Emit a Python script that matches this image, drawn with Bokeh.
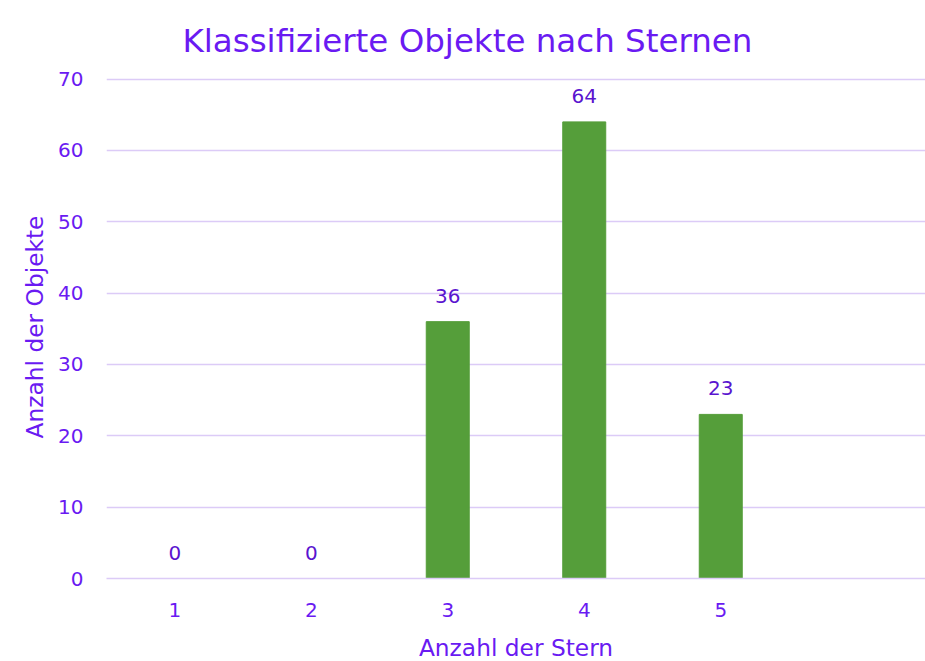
from bokeh.plotting import figure
from bokeh.models import ColumnDataSource, Title, FixedTicker, Range1d
from bokeh.core.properties import value
from bokeh.embed import file_html
from bokeh.resources import INLINE

categories = ["1", "2", "3", "4", "5", " "]
counts = [0, 0, 36, 64, 23, None]
y_ticks = [0, 10, 20, 30, 40, 50, 60, 70]

title_text = "Klassifizierte Objekte nach Sternen"
x_label = "Anzahl der Stern"
y_label = "Anzahl der Objekte"

PURPLE = "#6a1af2"
LABEL_PURPLE = "#5a14cf"
GREEN = "#559e3a"
GRID = "#dccbf7"
FONT = "DejaVu Sans"

bar_cats = categories[:5]
bar_vals = counts[:5]
src = ColumnDataSource(dict(x=bar_cats, top=bar_vals, lbl=[str(v) for v in bar_vals]))

p = figure(x_range=categories, y_range=Range1d(0, 70.5), frame_width=819, frame_height=503,
           output_backend="svg", toolbar_location=None,
           min_border_left=106, min_border_right=0, min_border_top=75, min_border_bottom=0)

p.vbar(x="x", top="top", width=0.315, source=src, color=GREEN)
p.text(x="x", y="top", text="lbl", source=src, text_align="center", text_baseline="bottom",
       y_offset=-19, text_color=LABEL_PURPLE, text_font=value(FONT), text_font_size="20px")

t = Title(text=title_text, align="left", offset=76, text_color=PURPLE,
          text_font=FONT, text_font_size="32.5px", text_font_style="normal",
          standoff=27, vertical_align="top")
p.add_layout(t, "above")

p.outline_line_color = None
p.xgrid.grid_line_color = None
p.ygrid.grid_line_color = GRID
p.ygrid.grid_line_width = 1.5
p.yaxis.ticker = FixedTicker(ticks=y_ticks)

for ax in (p.xaxis[0], p.yaxis[0]):
    ax.major_tick_line_color = None
    ax.minor_tick_line_color = None
    ax.major_label_text_color = PURPLE
    ax.major_label_text_font = FONT
    ax.major_label_text_font_size = "20px"
    ax.axis_label_text_color = PURPLE
    ax.axis_label_text_font = FONT
    ax.axis_label_text_font_size = "23.3px"
    ax.axis_label_text_font_style = "normal"

p.yaxis.axis_line_color = None
p.xaxis.axis_line_color = GRID
p.xaxis.axis_line_width = 1.5
p.xaxis.axis_label = x_label
p.yaxis.axis_label = y_label
p.xaxis.major_label_standoff = 13
p.xaxis.axis_label_standoff = 9
p.yaxis.major_label_standoff = 17
p.yaxis.axis_label_standoff = 7

open("out.html", "w").write(file_html(p, INLINE))
